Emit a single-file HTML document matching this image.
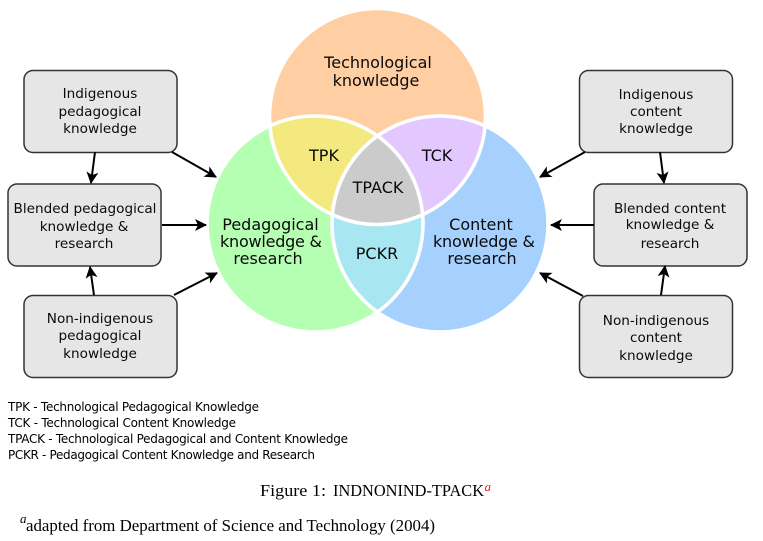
<!DOCTYPE html>
<html><head><meta charset="utf-8"><style>
html,body{margin:0;padding:0;background:#fff;width:763px;height:541px;overflow:hidden}
svg{display:block}
.d{font-family:"DejaVu Sans",sans-serif;fill:#0a0a0a;text-anchor:middle}
.v{font-size:16px}.b{font-size:13.6px}.l{font-size:12px;font-family:"DejaVu Sans",sans-serif;fill:#000}
.s{font-family:"Liberation Serif",serif;fill:#000}
rect{fill:#e6e6e6;stroke:#333;stroke-width:1.5}
line{stroke:#000;stroke-width:2;marker-end:url(#a)}
</style></head><body>
<svg width="763" height="541" viewBox="0 0 763 541" xmlns="http://www.w3.org/2000/svg">
<defs>
<marker id="a" markerUnits="userSpaceOnUse" markerWidth="14" markerHeight="14" refX="11" refY="6" orient="auto" viewBox="0 0 14 12"><path d="M0 0L12 6L0 12L3 6Z" fill="#000"/></marker>
<clipPath id="ct"><circle cx="377.5" cy="116.5" r="108"/></clipPath>
<clipPath id="cl"><circle cx="315" cy="224" r="108"/></clipPath>
<clipPath id="cr"><circle cx="440" cy="224" r="108"/></clipPath>
</defs>
<circle cx="377.5" cy="116.5" r="108" fill="#ffcfa3"/>
<circle cx="315" cy="224" r="108" fill="#b5ffb2"/>
<circle cx="440" cy="224" r="108" fill="#a6d1ff"/>
<g clip-path="url(#ct)"><circle cx="315" cy="224" r="108" fill="#f4e97f"/><circle cx="440" cy="224" r="108" fill="#e2c8ff"/></g>
<g clip-path="url(#cl)"><circle cx="440" cy="224" r="108" fill="#a8e7f2"/></g>
<g clip-path="url(#ct)"><g clip-path="url(#cl)"><circle cx="440" cy="224" r="108" fill="#cbcbcb"/></g></g>
<g fill="none" stroke="#fff" stroke-width="3.6">
<circle cx="377.5" cy="116.5" r="108"/><circle cx="315" cy="224" r="108"/><circle cx="440" cy="224" r="108"/>
</g>
<text class="d v" x="378" y="68">Technological</text>
<text class="d v" x="376" y="86">knowledge</text>
<text class="d v" x="324" y="161">TPK</text>
<text class="d v" x="437" y="161">TCK</text>
<text class="d v" x="378" y="193">TPACK</text>
<text class="d v" x="377" y="259">PCKR</text>
<text class="d v" x="270.500" y="230">Pedagogical</text>
<text class="d v" x="271" y="247" textLength="102">knowledge &amp;</text>
<text class="d v" x="268" y="264">research</text>
<text class="d v" x="481" y="230">Content</text>
<text class="d v" x="484" y="247" textLength="102">knowledge &amp;</text>
<text class="d v" x="482" y="264">research</text>

<rect x="24" y="70.500" width="153" height="82" rx="9"/>
<rect x="8" y="184" width="153" height="82" rx="9"/>
<rect x="24" y="295.500" width="153" height="82" rx="9"/>
<rect x="579.500" y="70.500" width="153" height="82" rx="9"/>
<rect x="594" y="184" width="153" height="82" rx="9"/>
<rect x="579.500" y="295.500" width="153" height="82" rx="9"/>

<g class="d b">
<text x="100" y="98">Indigenous</text><text x="100" y="116">pedagogical</text><text x="100" y="133">knowledge</text>
<text x="85" y="213">Blended pedagogical</text><text x="84" y="231">knowledge &amp;</text><text x="84" y="248">research</text>
<text x="100" y="323">Non-indigenous</text><text x="100" y="340">pedagogical</text><text x="100" y="358">knowledge</text>
<text x="656" y="99">Indigenous</text><text x="656" y="116">content</text><text x="656" y="133">knowledge</text>
<text x="670" y="213">Blended content</text><text x="670" y="229">knowledge &amp;</text><text x="670" y="248">research</text>
<text x="656" y="325">Non-indigenous</text><text x="656" y="342">content</text><text x="656" y="360">knowledge</text>
</g>

<line x1="95" y1="152" x2="91" y2="183"/>
<line x1="172" y1="152" x2="216" y2="177"/>
<line x1="162" y1="225" x2="206" y2="225"/>
<line x1="94" y1="295" x2="90" y2="267"/>
<line x1="174" y1="295" x2="217" y2="273"/>
<line x1="585" y1="152" x2="540" y2="177"/>
<line x1="660" y1="152" x2="664" y2="183"/>
<line x1="594" y1="225" x2="551" y2="225"/>
<line x1="661" y1="295" x2="665" y2="266"/>
<line x1="583" y1="296" x2="540" y2="273"/>

<text class="l" x="8" y="411" textLength="251">TPK - Technological Pedagogical Knowledge</text>
<text class="l" x="8" y="427" textLength="228">TCK - Technological Content Knowledge</text>
<text class="l" x="8" y="443" textLength="340">TPACK - Technological Pedagogical and Content Knowledge</text>
<text class="l" x="8" y="459" textLength="307">PCKR - Pedagogical Content Knowledge and Research</text>

<text class="s" x="260" y="496" font-size="16.5" textLength="66" lengthAdjust="spacingAndGlyphs">Figure 1:</text>
<text class="s" x="333" y="496" font-size="16.5" textLength="151" lengthAdjust="spacingAndGlyphs">INDNONIND-TPACK</text>
<text class="s" x="484.500" y="491" font-size="13" font-style="italic" style="fill:#e8201c">a</text>
<text class="s" x="20" y="523" font-size="13" font-style="italic">a</text>
<text class="s" x="26" y="531" font-size="16.5" textLength="409" lengthAdjust="spacingAndGlyphs">adapted from Department of Science and Technology (2004)</text>
</svg>
</body></html>
